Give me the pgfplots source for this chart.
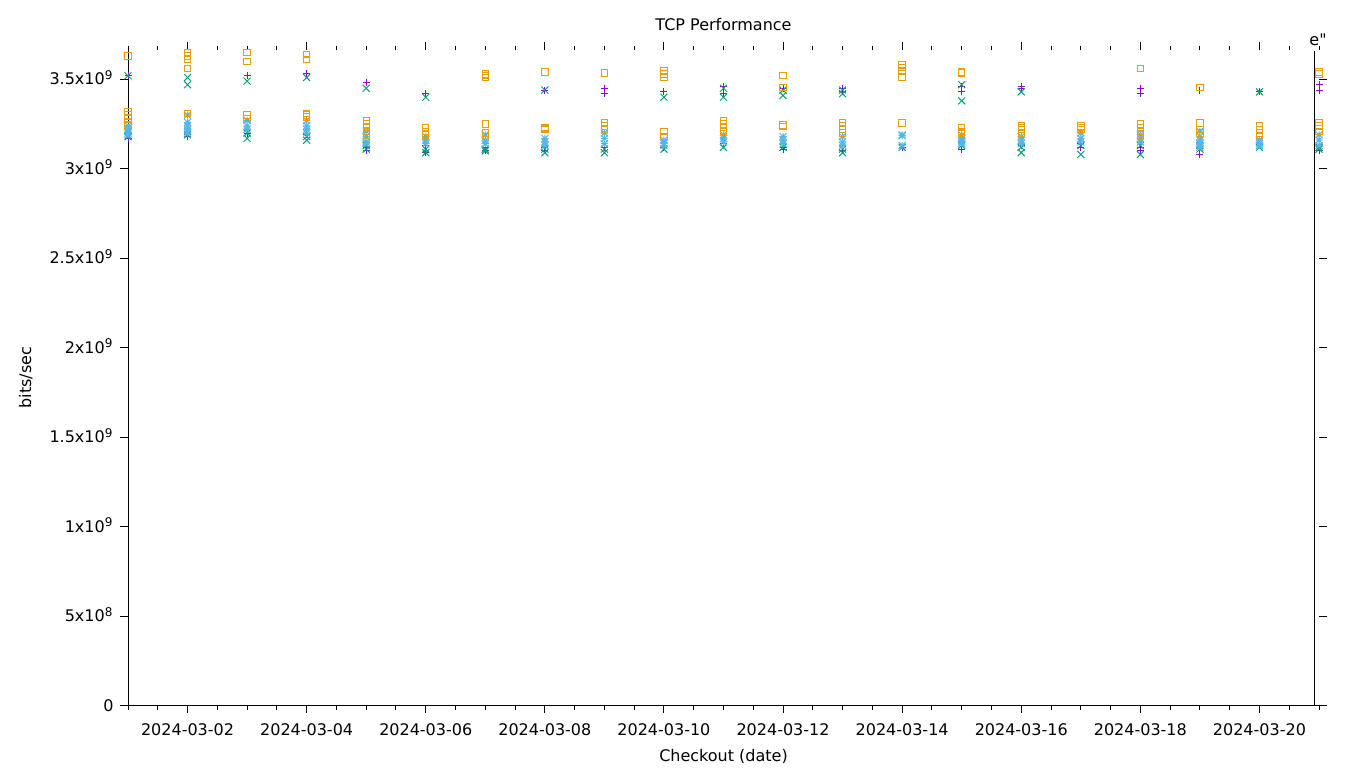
\documentclass[border=0pt]{standalone}
\usepackage{fontspec}
\setmainfont{DejaVu Sans}
\usepackage{pgfplots}
\usepackage{pgfplotstable}
\pgfplotsset{compat=1.18}
\definecolor{gpPurple}{RGB}{148,0,211}
\definecolor{gpGreen}{RGB}{0,158,115}
\definecolor{gpBlue}{RGB}{86,180,233}
\definecolor{gpOrange}{RGB}{230,159,0}
\pgfdeclareplotmark{gpx}{%
  \pgfpathmoveto{\pgfqpoint{-\pgfplotmarksize}{-\pgfplotmarksize}}%
  \pgfpathlineto{\pgfqpoint{\pgfplotmarksize}{\pgfplotmarksize}}%
  \pgfpathmoveto{\pgfqpoint{-\pgfplotmarksize}{\pgfplotmarksize}}%
  \pgfpathlineto{\pgfqpoint{\pgfplotmarksize}{-\pgfplotmarksize}}%
  \pgfusepathqstroke}
\pgfdeclareplotmark{gpstar}{%
  \pgfpathmoveto{\pgfqpoint{-\pgfplotmarksize}{-\pgfplotmarksize}}%
  \pgfpathlineto{\pgfqpoint{\pgfplotmarksize}{\pgfplotmarksize}}%
  \pgfpathmoveto{\pgfqpoint{-\pgfplotmarksize}{\pgfplotmarksize}}%
  \pgfpathlineto{\pgfqpoint{\pgfplotmarksize}{-\pgfplotmarksize}}%
  \pgfpathmoveto{\pgfqpoint{-\pgfplotmarksize}{0pt}}%
  \pgfpathlineto{\pgfqpoint{\pgfplotmarksize}{0pt}}%
  \pgfpathmoveto{\pgfqpoint{0pt}{-\pgfplotmarksize}}%
  \pgfpathlineto{\pgfqpoint{0pt}{\pgfplotmarksize}}%
  \pgfusepathqstroke}

\pgfplotstableread{
x y
0 3.52
0 3.17
0 3.20
1 3.20
1 3.18
1 3.22
2 3.52
2 3.20
3 3.53
3 3.19
4 3.485
4 3.12
4 3.10
5 3.42
5 3.13
5 3.09
6 3.12
6 3.10
7 3.44
7 3.10
7 3.12
8 3.45
8 3.42
8 3.12
9 3.43
9 3.12
10 3.46
10 3.42
10 3.14
11 3.45
11 3.12
11 3.11
12 3.45
12 3.43
12 3.10
13 3.12
14 3.46
14 3.43
14 3.11
15 3.46
15 3.45
15 3.13
16 3.14
16 3.12
17 3.45
17 3.42
17 3.12
17 3.10
18 3.44
18 3.08
18 3.12
19 3.43
19 3.13
20 3.47
20 3.44
20 3.10
}\purple

\pgfplotstableread{
x y
0 3.52
0 3.18
0 3.21
1 3.51
1 3.47
1 3.21
1 3.19
2 3.49
2 3.20
2 3.17
3 3.51
3 3.18
3 3.16
4 3.45
4 3.13
4 3.11
5 3.40
5 3.11
5 3.09
6 3.11
6 3.10
7 3.44
7 3.11
7 3.09
8 3.11
8 3.09
9 3.40
9 3.11
10 3.45
10 3.40
10 3.12
11 3.44
11 3.41
11 3.12
12 3.44
12 3.42
12 3.11
12 3.09
13 3.12
14 3.47
14 3.38
14 3.13
15 3.43
15 3.12
15 3.09
16 3.13
16 3.08
17 3.13
17 3.08
18 3.13
18 3.11
19 3.43
19 3.12
20 3.12
20 3.11
}\green

\pgfplotstableread{
x y
0 3.24
0 3.22
0 3.20
0 3.19
1 3.30
1 3.26
1 3.24
1 3.22
1 3.20
2 3.27
2 3.24
2 3.22
3 3.27
3 3.24
3 3.22
3 3.20
4 3.21
4 3.18
4 3.15
4 3.14
5 3.18
5 3.16
5 3.14
6 3.19
6 3.16
6 3.14
7 3.17
7 3.15
7 3.13
8 3.20
8 3.17
8 3.14
9 3.16
9 3.14
9 3.13
10 3.19
10 3.17
10 3.15
11 3.18
11 3.16
11 3.14
12 3.18
12 3.15
12 3.13
13 3.19
13 3.185
13 3.13
14 3.19
14 3.17
14 3.15
14 3.14
15 3.18
15 3.16
15 3.14
16 3.20
16 3.17
16 3.15
17 3.19
17 3.17
17 3.15
18 3.21
18 3.18
18 3.16
18 3.14
18 3.12
19 3.16
19 3.14
19 3.13
20 3.19
20 3.16
20 3.13
}\blue

\pgfplotstableread{
x y
0 3.63
0 3.32
0 3.30
0 3.28
0 3.26
0 3.24
1 3.65
1 3.63
1 3.61
1 3.56
1 3.31
2 3.65
2 3.60
2 3.30
2 3.28
3 3.64
3 3.61
3 3.31
3 3.30
3 3.29
4 3.27
4 3.25
4 3.23
4 3.21
4 3.19
5 3.23
5 3.21
5 3.19
6 3.53
6 3.52
6 3.51
6 3.25
6 3.20
6 3.18
7 3.54
7 3.23
7 3.225
7 3.22
8 3.535
8 3.26
8 3.24
8 3.22
9 3.55
9 3.53
9 3.51
9 3.21
9 3.18
10 3.27
10 3.25
10 3.23
10 3.21
11 3.52
11 3.455
11 3.245
11 3.235
12 3.26
12 3.24
12 3.22
12 3.20
13 3.58
13 3.565
13 3.55
13 3.51
13 3.255
14 3.54
14 3.535
14 3.23
14 3.21
14 3.20
15 3.24
15 3.23
15 3.22
15 3.20
16 3.24
16 3.23
16 3.22
17 3.56
17 3.25
17 3.23
17 3.21
17 3.19
18 3.455
18 3.255
18 3.22
18 3.20
19 3.24
19 3.22
19 3.20
19 3.18
20 3.54
20 3.53
20 3.26
20 3.24
20 3.21
}\orange

\begin{document}
\begin{tikzpicture}[font=\fontsize{8}{9.6}\selectfont]
\path[use as bounding box] (0,0) rectangle (680pt,384pt);
\begin{axis}[
  at={(64pt,31.25pt)}, anchor=south west,
  scale only axis, width=595.5pt, height=327.75pt,
  xmin=0, xmax=20, ymin=0, ymax=3.664,
  clip=false,
  axis line style={draw=none},
  tick align=outside,
  major tick length=3.75pt, minor tick length=2pt,
  tick style={black, line width=0.5pt},
  xtick={1,3,5,7,9,11,13,15,17,19},
  xticklabels={2024-03-02,2024-03-04,2024-03-06,2024-03-08,2024-03-10,2024-03-12,2024-03-14,2024-03-16,2024-03-18,2024-03-20},
  minor xtick={0,0.5,...,20},
  ytick={0,0.5,1,1.5,2,2.5,3,3.5},
  yticklabels={0,5x10\textsuperscript{8},1x10\textsuperscript{9},1.5x10\textsuperscript{9},2x10\textsuperscript{9},2.5x10\textsuperscript{9},3x10\textsuperscript{9},3.5x10\textsuperscript{9}},
  xticklabel style={anchor=base, yshift=-11pt},
  yticklabel style={anchor=base east, yshift=-2.8pt},
  title={TCP Performance},
  title style={at={(0.5,1)}, anchor=base, yshift=4pt, inner sep=0pt},
  xlabel={Checkout (date)},
  xlabel style={at={(0.5,0)}, anchor=base, yshift=-28pt, inner sep=0pt},
  ylabel={bits/sec},
  ylabel style={at={(-0.0814,0.5)}, anchor=base, inner sep=0pt},
  every axis plot/.append style={only marks, line width=0.5pt},
]
\draw[black, line width=0.5pt] (axis cs:0,3.675) -- (axis cs:0,0) -- (axis cs:20,0);
\draw[black, line width=0.5pt] (axis cs:19.916,3.658) -- (axis cs:19.916,0);
\addplot[gpPurple, mark=+, mark size=1.75pt] table[x=x,y=y] {\purple};
\addplot[gpGreen, mark=gpx, mark size=1.75pt] table[x=x,y=y] {\green};
\addplot[gpBlue, mark=gpstar, mark size=1.75pt] table[x=x,y=y] {\blue};
\addplot[gpOrange, mark=square, mark size=1.6pt] table[x=x,y=y] {\orange};
\end{axis}
\node[anchor=base east, inner sep=0pt] at (663.5pt,361.5pt) {\addfontfeatures{Ligatures=TeXOff}e"};
\end{tikzpicture}
\end{document}
